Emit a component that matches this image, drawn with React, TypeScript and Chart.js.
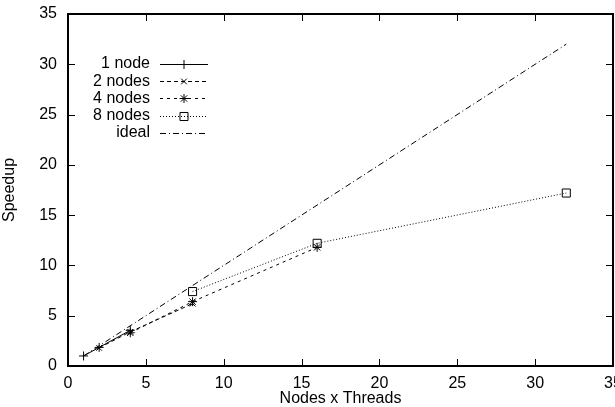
import React, { useEffect, useRef } from "react";
import { Chart, registerables } from "chart.js";

Chart.register(...registerables);

const seriesNames = ["1 node", "2 nodes", "4 nodes", "8 nodes", "ideal"];
const node1X = [1, 2, 4];
const node1Y = [1, 1.85, 3.55];
const node2X = [2, 4, 8];
const node2Y = [1.8, 3.4, 6.2];
const node4X = [4, 8, 16];
const node4Y = [3.3, 6.4, 11.8];
const node8X = [8, 16, 32];
const node8Y = [7.4, 12.2, 17.2];
const idealX = [1, 32];
const idealY = [1, 32];

const xTitle = "Nodes x Threads";
const yTitle = "Speedup";

const FONT = "Liberation Sans, Arial, Helvetica, sans-serif";
const CANVAS_W = 630;

function pts(xs: number[], ys: number[]) {
  return xs.map((x, i) => ({ x, y: ys[i] }));
}

const pointStyles: any[] = ["cross", "crossRot", "star", "rect", false];
const dashes: number[][] = [[], [4, 3], [3, 4], [1, 2], [6, 3, 1, 3]];
const radii = [4.5, 4, 4.5, 5.7, 0];

function drawMarker(ctx: CanvasRenderingContext2D, style: any, x: number, y: number, r: number) {
  if (!style) return;
  ctx.save();
  ctx.setLineDash([]);
  ctx.lineWidth = 1;
  ctx.strokeStyle = "#000";
  ctx.beginPath();
  const d = r * Math.SQRT1_2;
  if (style === "cross" || style === "star") {
    ctx.moveTo(x - r, y);
    ctx.lineTo(x + r, y);
    ctx.moveTo(x, y - r);
    ctx.lineTo(x, y + r);
  }
  if (style === "crossRot" || style === "star") {
    ctx.moveTo(x - d, y - d);
    ctx.lineTo(x + d, y + d);
    ctx.moveTo(x - d, y + d);
    ctx.lineTo(x + d, y - d);
  }
  if (style === "rect") {
    ctx.rect(x - d, y - d, 2 * d, 2 * d);
  }
  ctx.stroke();
  ctx.restore();
}

const framePlugin = {
  id: "frame",
  afterDraw(chart: any) {
    const ctx: CanvasRenderingContext2D = chart.ctx;
    const { left, right, top, bottom } = chart.chartArea;
    const xs = chart.scales.x;
    const ys = chart.scales.y;
    ctx.save();
    ctx.strokeStyle = "#000";
    ctx.lineWidth = 1;
    ctx.setLineDash([]);
    const tl = 7;
    ctx.beginPath();
    xs.ticks.forEach((t: any) => {
      const px = Math.round(xs.getPixelForValue(t.value)) + 0.5;
      ctx.moveTo(px, bottom);
      ctx.lineTo(px, bottom - tl);
      ctx.moveTo(px, top);
      ctx.lineTo(px, top + tl);
    });
    ys.ticks.forEach((t: any) => {
      const py = Math.round(ys.getPixelForValue(t.value)) + 0.5;
      ctx.moveTo(left, py);
      ctx.lineTo(left + tl, py);
      ctx.moveTo(right, py);
      ctx.lineTo(right - tl, py);
    });
    ctx.stroke();
    ctx.lineWidth = 2;
    ctx.strokeRect(left, top, right - left, bottom - top);

    // titles
    ctx.fillStyle = "#000";
    ctx.font = `16px ${FONT}`;
    ctx.textAlign = "center";
    ctx.textBaseline = "middle";
    ctx.fillText(xTitle, (left + right) / 2, 399);
    ctx.save();
    ctx.translate(10, 190);
    ctx.rotate(-Math.PI / 2);
    ctx.fillText(yTitle, 0, 0);
    ctx.restore();

    // legend
    const ds = chart.data.datasets;
    ds.forEach((d: any, i: number) => {
      const y = 64 + i * 17.2;
      ctx.font = `16px ${FONT}`;
      ctx.textAlign = "right";
      ctx.textBaseline = "middle";
      ctx.fillStyle = "#000";
      ctx.fillText(d.label, 150, y);
      ctx.save();
      ctx.lineWidth = 1;
      ctx.setLineDash(d.borderDash || []);
      ctx.beginPath();
      ctx.moveTo(160, Math.round(y) + 0.5);
      ctx.lineTo(208, Math.round(y) + 0.5);
      ctx.stroke();
      ctx.restore();
      drawMarker(ctx, d.pointStyle, 184, Math.round(y) + 0.5, d.pointRadius);
    });
    ctx.restore();
  },
};

export default function App() {
  const ref = useRef<HTMLCanvasElement | null>(null);
  useEffect(() => {
    if (!ref.current) return;
    const data = [pts(node1X, node1Y), pts(node2X, node2Y), pts(node4X, node4Y), pts(node8X, node8Y), pts(idealX, idealY)];
    const chart = new Chart(ref.current, {
      type: "scatter",
      data: {
        datasets: data.map((d, i) => ({
          label: seriesNames[i],
          data: d,
          showLine: true,
          borderColor: "#000",
          backgroundColor: "rgba(0,0,0,0)",
          borderWidth: 1,
          borderDash: dashes[i],
          pointStyle: pointStyles[i],
          pointRadius: radii[i],
          pointBorderWidth: 1,
          pointBorderColor: "#000",
          pointBackgroundColor: "rgba(0,0,0,0)",
          tension: 0,
        })),
      },
      options: {
        animation: false,
        responsive: false,
        layout: { padding: { top: 14, right: CANVAS_W - 613, left: 0, bottom: 0 } },
        plugins: { legend: { display: false }, tooltip: { enabled: false } },
        scales: {
          x: {
            type: "linear",
            min: 0,
            max: 35,
            grid: { display: false, drawTicks: false },
            border: { display: false },
            ticks: { stepSize: 5, color: "#000", padding: 8, maxRotation: 0, align: "center", font: { family: FONT, size: 16 } },
            afterFit: (s: any) => {
              s.height = 41;
              s.paddingLeft = 0;
              s.paddingRight = 0;
            },
          },
          y: {
            type: "linear",
            min: 0,
            max: 35,
            grid: { display: false, drawTicks: false },
            border: { display: false },
            ticks: { stepSize: 5, color: "#000", padding: 11, font: { family: FONT, size: 16 } },
            afterFit: (s: any) => {
              s.width = 68;
              s.paddingTop = 0;
              s.paddingBottom = 0;
            },
          },
        },
      } as any,
      plugins: [framePlugin],
    });
    return () => chart.destroy();
  }, []);
  return (
    <div style={{ position: "absolute", left: 0, top: 0, width: 615, height: 407, overflow: "hidden", background: "#fff" }}>
      <canvas ref={ref} width={CANVAS_W} height={407} style={{ width: CANVAS_W, height: 407, display: "block" }} />
    </div>
  );
}
